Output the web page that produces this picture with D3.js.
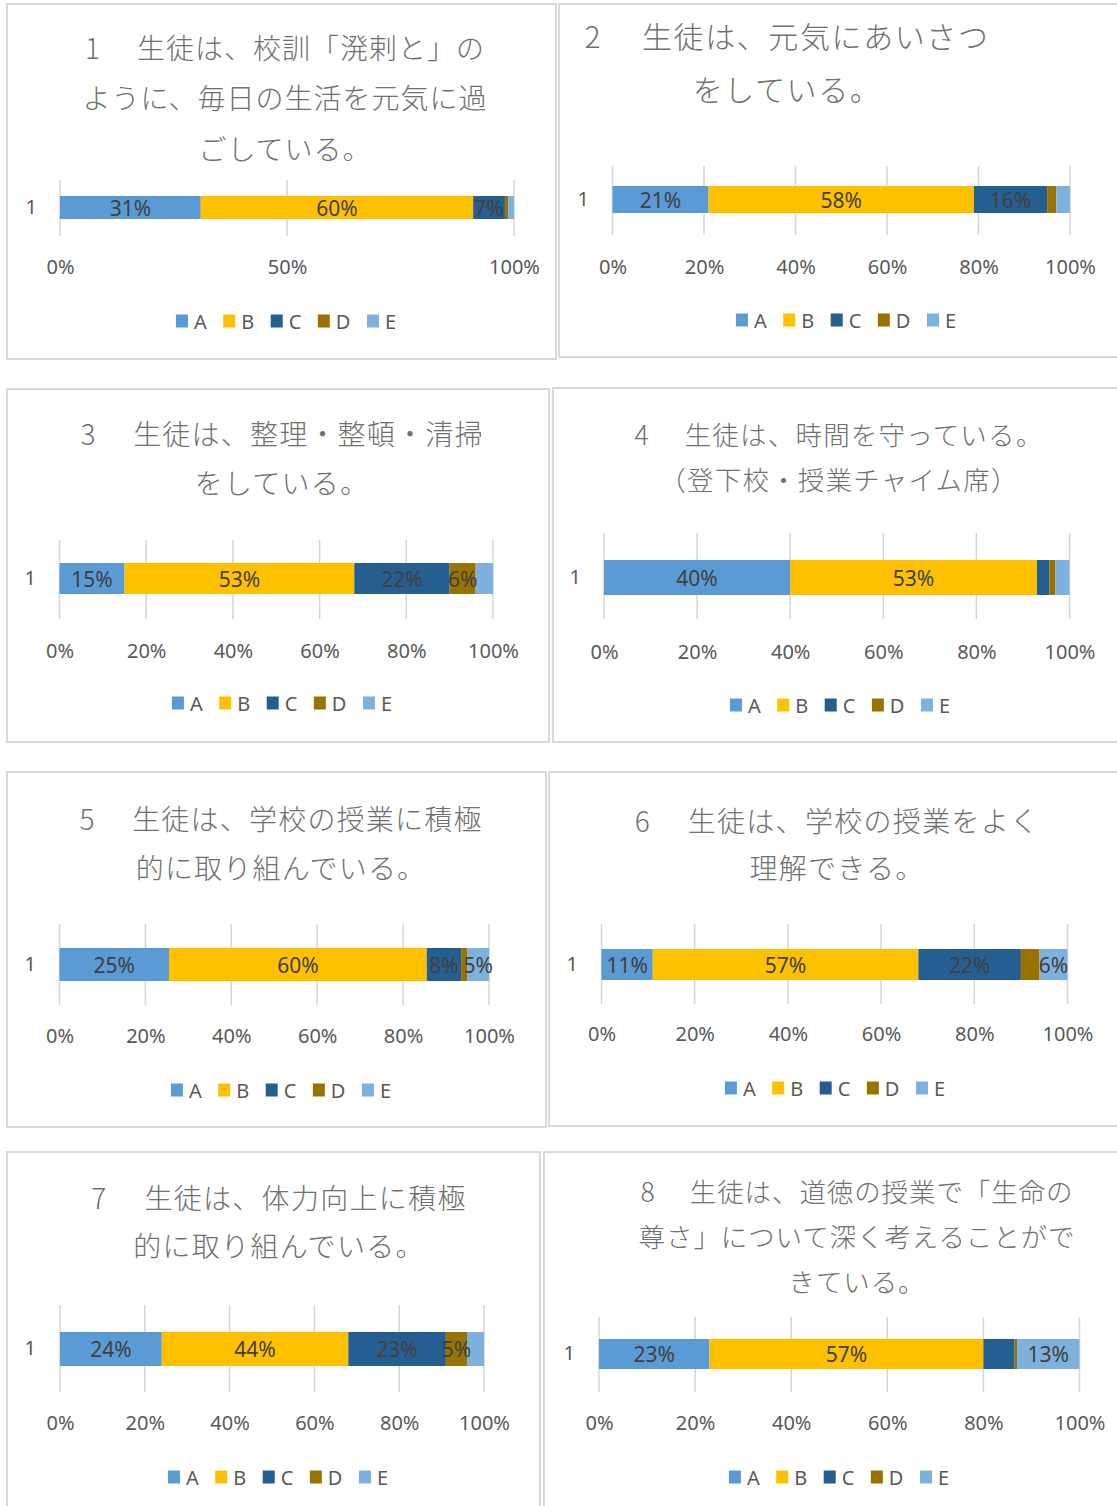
<!DOCTYPE html>
<html><head><meta charset="utf-8">
<script src="https://cdn.jsdelivr.net/npm/d3@7"></script>
<style>
html,body{margin:0;padding:0;background:#fff;}
svg{display:block;}
.title{white-space:pre;}
</style>
</head><body>
<svg id="chart" width="1117" height="1506"></svg>
<script>
// ---------- DATA ----------
const seriesNames = ["A", "B", "C", "D", "E"];
const questionTitles = [
  ["1\u3000 生徒は、校訓「溌剌と」の", "ように、毎日の生活を元気に過", "ごしている。"],
  ["2\u3000 生徒は、元気にあいさつ", "をしている。"],
  ["3\u3000 生徒は、整理・整頓・清掃", "をしている。"],
  ["4\u3000 生徒は、時間を守っている。", "（登下校・授業チャイム席）"],
  ["5\u3000 生徒は、学校の授業に積極", "的に取り組んでいる。"],
  ["6\u3000 生徒は、学校の授業をよく", "理解できる。"],
  ["7\u3000 生徒は、体力向上に積極", "的に取り組んでいる。"],
  ["8\u3000 生徒は、道徳の授業で「生命の", "尊さ」について深く考えることがで", "きている。"]
];
const categoryLabel = ["1"];
const seriesA = [31, 21, 15, 40, 25.5, 11, 24, 23];
const seriesB = [60, 58, 53, 53, 60, 57, 44, 57];
const seriesC = [7, 16, 22, 2.7, 8, 22, 23, 6.5];
const seriesD = [0.7, 2, 6, 1.3, 1.5, 4, 5, 0.5];
const seriesE = [1.3, 3, 4, 3, 5, 6, 4, 13];
const labelsA = ["31%", "21%", "15%", "40%", "25%", "11%", "24%", "23%"];
const labelsB = ["60%", "58%", "53%", "53%", "60%", "57%", "44%", "57%"];
const labelsC = ["7%", "16%", "22%", "", "8%", "22%", "23%", ""];
const labelsD = ["", "", "6%", "", "", "", "5%", ""];
const labelsE = ["", "", "", "", "5%", "6%", "", "13%"];
const ticksHalf = [0, 50, 100];
const ticksFifth = [0, 20, 40, 60, 80, 100];
const tickSets = [ticksHalf, ticksFifth, ticksFifth, ticksFifth, ticksFifth, ticksFifth, ticksFifth, ticksFifth];

// ---------- STYLE / LAYOUT ----------
const colors = ["#5b9bd5", "#ffc000", "#255e91", "#997300", "#7fb1df"];
const layout = [
  {box:[7,4,549,355], x0:60, x1:514, bar:[196,219], grid:[180,236], tickY:267, legendY:321, legendCx:286, catX:37, titleCx:285, titleY:[47,97,148], fs:28, ls:1},
  {box:[559,4,570,353], x0:612.5, x1:1070, bar:[186,213], grid:[166,235], tickY:267, legendY:320, legendCx:846, catX:589, titleCx:787, titleY:[35,88], fs:30, ls:1.6},
  {box:[7,389,542,353], x0:59.5, x1:493, bar:[563,594], grid:[540,619], tickY:651, legendY:703, legendCx:282, catX:36, titleCx:282, titleY:[433,482], fs:28, ls:1.2},
  {box:[553,388,570,354], x0:604, x1:1069.5, bar:[560,595], grid:[533,619], tickY:652, legendY:705, legendCx:840, catX:581, titleCx:839, titleY:[433,478], fs:26.5, ls:1.2},
  {box:[7,772,539,355], x0:59.5, x1:489, bar:[948,981], grid:[924,1005], tickY:1036, legendY:1090, legendCx:281, catX:36, titleCx:281, titleY:[818,867], fs:28, ls:1.2},
  {box:[549,772,570,354], x0:601.5, x1:1067.5, bar:[949,980], grid:[924,1004], tickY:1034, legendY:1088, legendCx:835, catX:578, titleCx:837, titleY:[820,867], fs:28, ls:1.3},
  {box:[7,1152,533,370], x0:60, x1:484, bar:[1332,1366], grid:[1305,1392], tickY:1423, legendY:1477, legendCx:278, catX:36, titleCx:279, titleY:[1197,1245], fs:28, ls:1.3},
  {box:[544,1152,580,370], x0:599, x1:1079.5, bar:[1339,1369], grid:[1317,1392], tickY:1423, legendY:1477, legendCx:839, catX:575, titleCx:857, titleY:[1190,1235,1280], fs:26.5, ls:0.9}
];
const latinFont = "'Noto Sans', 'Open Sans', sans-serif";
const cjkFont = "'Noto Sans CJK JP', 'Noto Sans', sans-serif";

const allSeries = [seriesA, seriesB, seriesC, seriesD, seriesE];
const allLabels = [labelsA, labelsB, labelsC, labelsD, labelsE];

const svg = d3.select("#chart");

layout.forEach((L, qi) => {
  const g = svg.append("g");
  // frame
  g.append("rect").attr("x", L.box[0]).attr("y", L.box[1]).attr("width", L.box[2]).attr("height", L.box[3])
    .attr("fill", "#fff").attr("stroke", "#d9d9d9").attr("stroke-width", 2);

  // title
  questionTitles[qi].forEach((line, li) => {
    g.append("text").attr("class", "title")
      .attr("x", L.titleCx).attr("y", L.titleY[li])
      .attr("text-anchor", "middle").attr("dominant-baseline", "central")
      .attr("font-family", cjkFont).attr("font-size", L.fs).attr("letter-spacing", L.ls)
      .attr("font-weight", 300)
      .attr("fill", "#707070").text(line);
  });

  const x = d3.scaleLinear().domain([0, 100]).range([L.x0, L.x1]);
  const y = d3.scaleBand().domain(categoryLabel).range([L.bar[0], L.bar[1]]).padding(0);

  // gridlines
  g.selectAll("line.grid").data(tickSets[qi]).join("line").attr("class", "grid")
    .attr("x1", d => x(d)).attr("x2", d => x(d))
    .attr("y1", L.grid[0]).attr("y2", L.grid[1])
    .attr("stroke", "#d6d6d6").attr("stroke-width", 1.5);

  // stacked bar
  const row = {cat: categoryLabel[0]};
  seriesNames.forEach((s, si) => row[s] = allSeries[si][qi]);
  const stacked = d3.stack().keys(seriesNames)([row]);
  stacked.forEach((layer, si) => {
    const seg = layer[0];
    g.append("rect")
      .attr("x", x(seg[0])).attr("y", y(row.cat))
      .attr("width", x(seg[1]) - x(seg[0])).attr("height", y.bandwidth())
      .attr("fill", colors[si]);
  });
  stacked.forEach((layer, si) => {
    const seg = layer[0];
    const lbl = allLabels[si][qi];
    if (!lbl) return;
    g.append("text")
      .attr("x", (x(seg[0]) + x(seg[1])) / 2).attr("y", y(row.cat) + y.bandwidth() / 2)
      .attr("text-anchor", "middle").attr("dominant-baseline", "central")
      .attr("font-family", latinFont).attr("font-size", 21)
      .attr("fill", "#404040").text(lbl);
  });

  // x axis labels
  const xAxis = d3.axisBottom(x).tickValues(tickSets[qi]).tickSize(0).tickFormat(d => d + "%");
  const ax = g.append("g").attr("transform", `translate(0,${L.tickY})`).call(xAxis);
  ax.select(".domain").remove();
  ax.selectAll("text").attr("y", 0).attr("dy", "0.35em")
    .attr("font-family", latinFont).attr("font-size", 20).attr("fill", "#595959");

  // y axis label
  const yAxis = d3.axisLeft(y).tickSize(0).tickPadding(0);
  const ay = g.append("g").attr("transform", `translate(${L.catX},0)`).call(yAxis);
  ay.select(".domain").remove();
  ay.selectAll("text").attr("font-family", latinFont).attr("font-size", 20).attr("fill", "#595959");

  // legend
  const lg = g.append("g");
  let cx = 0;
  const items = [];
  seriesNames.forEach((s, si) => {
    const it = lg.append("g");
    it.append("rect").attr("x", 0).attr("y", -6.5).attr("width", 12).attr("height", 13).attr("fill", colors[si]);
    const t = it.append("text").attr("x", 18).attr("y", 0).attr("dominant-baseline", "central")
      .attr("font-family", latinFont).attr("font-size", 20).attr("fill", "#595959").text(s);
    const w = t.node().getComputedTextLength();
    it.attr("transform", `translate(${cx},0)`);
    items.push(cx + 18 + w);
    cx += 18 + w + 16.5;
  });
  const totalW = items[items.length - 1];
  lg.attr("transform", `translate(${L.legendCx - totalW / 2},${L.legendY})`);
});
</script>
</body></html>
